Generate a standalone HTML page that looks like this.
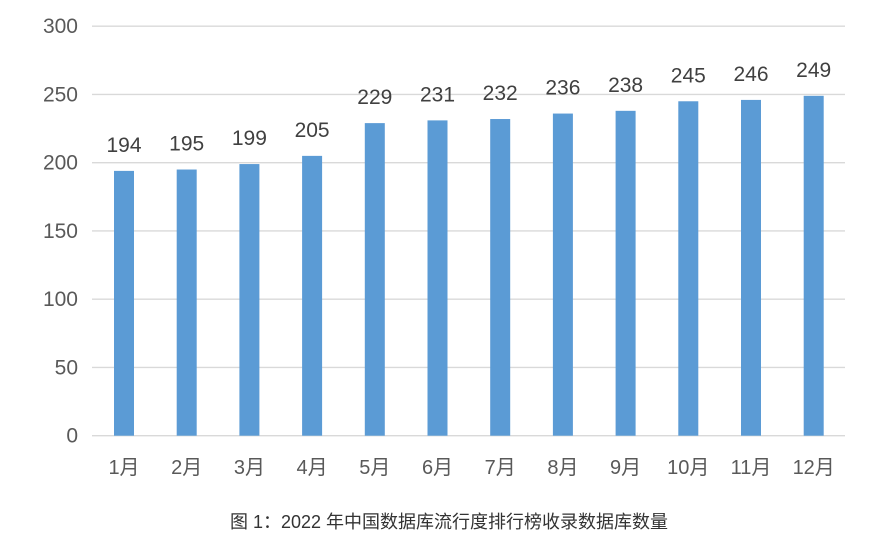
<!DOCTYPE html>
<html><head><meta charset="utf-8"><style>
body{margin:0;background:#fff;width:893px;height:553px;overflow:hidden}
svg text{font-family:"Liberation Sans","Noto Sans CJK SC",sans-serif}
</style></head><body>
<svg width="893" height="553">
<g id="grid"></g><g id="bars"></g><g id="labels"></g>
<text x="449" y="528" text-anchor="middle" font-size="18" fill="#333">图 1：2022 年中国数据库流行度排行榜收录数据库数量</text>
</svg>
<script>
const categories=["1月","2月","3月","4月","5月","6月","7月","8月","9月","10月","11月","12月"];
const values=[194,195,199,205,229,231,232,236,238,245,246,249];
const ticks=[0,50,100,150,200,250,300];
const NS="http://www.w3.org/2000/svg";
const y0=435.7,y300=26.2,x0=124,step=62.7,bw=20;
function y(v){return y0-(v/300)*(y0-y300);}
function x(i){return x0+i*step;}
function mk(t,a,p,txt){const e=document.createElementNS(NS,t);for(const k in a)e.setAttribute(k,a[k]);if(txt!=null)e.textContent=txt;document.getElementById(p).appendChild(e);return e;}
ticks.forEach(t=>{
  const l=mk('line',{x1:92,x2:845,y1:y(t),y2:y(t),stroke:'#d9d9d9','stroke-width':1.3},'grid');
  
  
  const tx=mk('text',{x:78,y:y(t)+7,'text-anchor':'end','font-size':21,fill:'#595959'},'grid',t);
  
  
});
values.forEach((v,i)=>{
  const r=mk('rect',{x:x(i)-bw/2,y:y(v),width:bw,height:y0-y(v),fill:'#5b9bd5'},'bars');
  
  
  const t=mk('text',{x:x(i),y:y(v)-19,'text-anchor':'middle','font-size':21,fill:'#404040'},'labels',v);
  
  
  const c=mk('text',{x:x(i),y:474,'text-anchor':'middle','font-size':20,fill:'#595959'},'labels',categories[i]);
  
  
});
</script>
</body></html>
